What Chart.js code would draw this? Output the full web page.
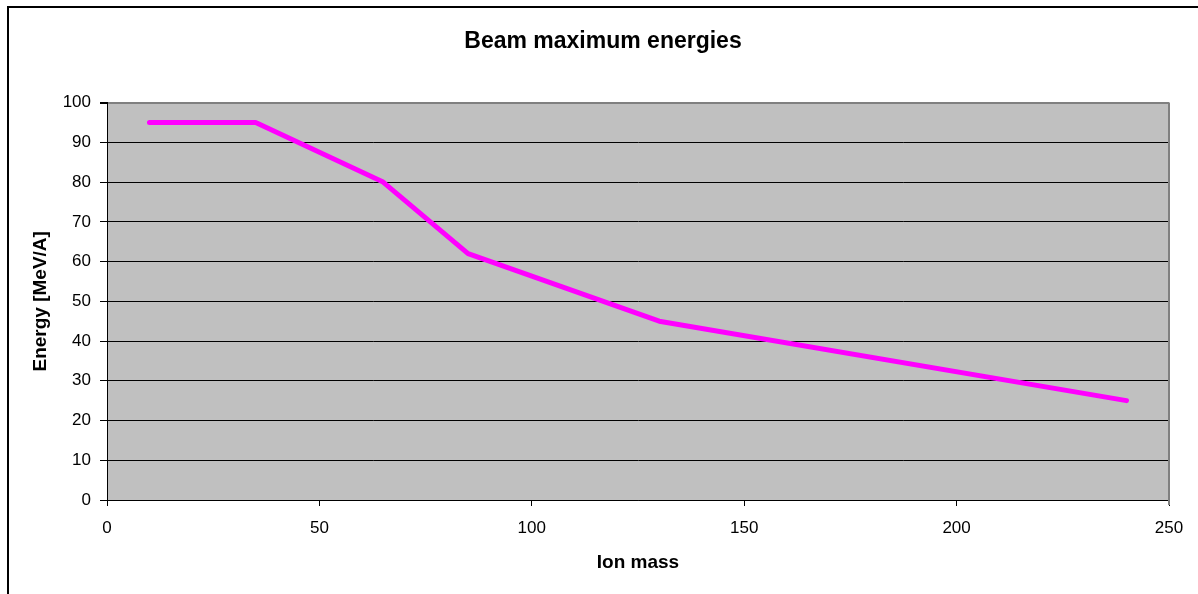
<!DOCTYPE html>
<html>
<head>
<meta charset="utf-8">
<title>Beam maximum energies</title>
<script src="https://cdn.jsdelivr.net/npm/chart.js@4.4.1/dist/chart.umd.min.js"></script>
<style>
  html, body { margin: 0; padding: 0; background: #fff; }
  canvas { display: block; }
</style>
</head>
<body>
<canvas id="myChart" width="1198" height="594"></canvas>
<script>
// data
const ionMass = [10, 35, 65, 85, 130, 240];
const maxEnergy = [95, 95, 80, 62, 45, 25];
const xTickValues = [0, 50, 100, 150, 200, 250];
const yTickValues = [0, 10, 20, 30, 40, 50, 60, 70, 80, 90, 100];

const FONT = "'Liberation Sans', Arial, sans-serif";

// grey plot area, outer frame and the grey right edge of the plot
const excelLook = {
  id: 'excelLook',
  beforeDraw(chart) {
    const ctx = chart.ctx;
    const a = chart.chartArea;
    ctx.save();
    ctx.fillStyle = '#ffffff';
    ctx.fillRect(0, 0, chart.width, chart.height);
    ctx.fillStyle = '#c0c0c0';
    ctx.fillRect(a.left, a.top, a.right - a.left, a.bottom - a.top);
    ctx.strokeStyle = '#000';
    ctx.lineWidth = 2;
    ctx.strokeRect(8, 7, chart.width + 50, chart.height + 50);
    ctx.restore();
  },
  beforeDatasetsDraw(chart) {
    const ctx = chart.ctx;
    const a = chart.chartArea;
    ctx.save();
    ctx.strokeStyle = '#808080';
    ctx.lineWidth = 2;
    ctx.beginPath();
    ctx.moveTo(a.right, a.top);
    ctx.lineTo(a.right, a.bottom + 5);
    ctx.stroke();
    ctx.restore();
  }
};

new Chart("myChart", {
  type: "scatter",
  data: {
    datasets: [{
      data: ionMass.map((x, i) => ({x: x, y: maxEnergy[i]})),
      showLine: true,
      borderColor: "#ff00ff",
      backgroundColor: "#ff00ff",
      borderWidth: 5,
      borderCapStyle: "round",
      borderJoinStyle: "round",
      pointRadius: 0,
      tension: 0
    }]
  },
  plugins: [excelLook],
  options: {
    responsive: false,
    animation: false,
    layout: { padding: { left: 8, right: 0, top: 6, bottom: 0 } },
    plugins: {
      legend: { display: false },
      tooltip: { enabled: false },
      title: {
        display: true,
        text: "Beam maximum energies",
        color: "#000",
        font: { family: FONT, size: 23, weight: "bold", lineHeight: 1.2 },
        padding: { top: 22, bottom: 47 }
      }
    },
    scales: {
      x: {
        type: "linear",
        min: 0,
        max: 250,
        afterBuildTicks: s => { s.ticks = xTickValues.map(v => ({value: v})); },
        afterFit: s => { s.height = 94; s.paddingRight = 29; },
        border: { display: true, color: "#000", width: 1 },
        grid: { drawOnChartArea: false, drawTicks: true, tickLength: 6, tickColor: "#000" },
        ticks: { color: "#000", padding: 12, maxRotation: 0, font: { family: FONT, size: 17 } },
        title: {
          display: true,
          text: "Ion mass",
          color: "#000",
          font: { family: FONT, size: 19, weight: "bold", lineHeight: 1.2 },
          padding: { top: 0, bottom: 20 }
        }
      },
      y: {
        min: 0,
        max: 100,
        afterBuildTicks: s => { s.ticks = yTickValues.map(v => ({value: v})); },
        afterFit: s => { s.width = 99; },
        border: { display: true, color: "#000", width: 1 },
        grid: {
          color: c => (c.tick && c.tick.value === 100) ? "#808080" : "#000",
          lineWidth: c => (c.tick && c.tick.value === 100) ? 2 : 1,
          tickColor: "#000",
          tickLength: 7
        },
        ticks: { color: "#000", padding: 9, font: { family: FONT, size: 17 } },
        title: {
          display: true,
          text: "Energy [MeV/A]",
          color: "#000",
          font: { family: FONT, size: 19, weight: "bold", lineHeight: 1.2 },
          padding: { top: 21, bottom: 0 }
        }
      }
    }
  }
});
</script>
</body>
</html>
